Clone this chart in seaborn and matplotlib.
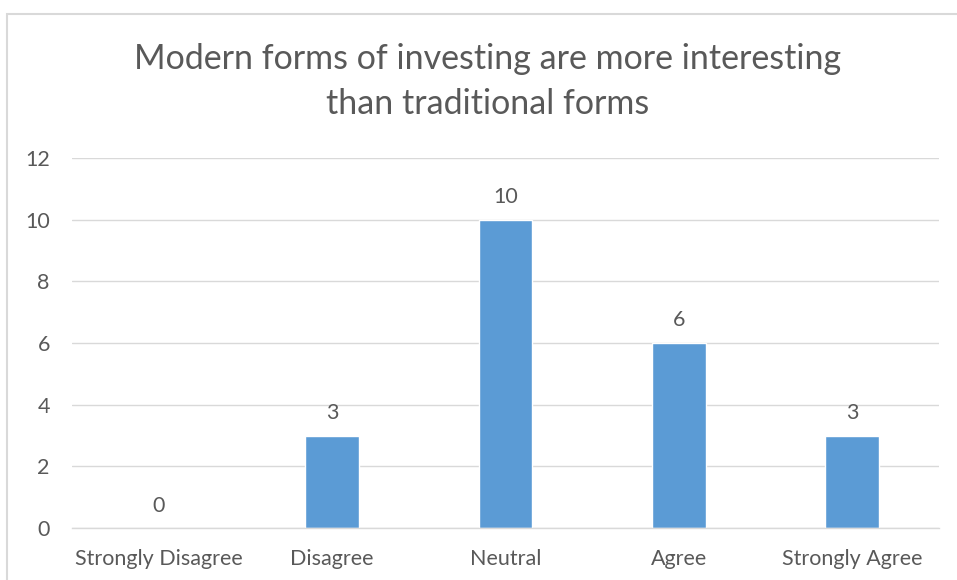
import matplotlib
matplotlib.use("Agg")
import matplotlib.pyplot as plt
import seaborn as sns
import pandas as pd
from matplotlib.patches import Rectangle

categories = ["Strongly Disagree", "Disagree", "Neutral", "Agree", "Strongly Agree"]
counts = [0, 3, 10, 6, 3]
y_ticks = [0, 2, 4, 6, 8, 10, 12]
title = "Modern forms of investing are more interesting\nthan traditional forms"

sns.set_theme(style="white")
plt.rcParams["font.family"] = ["Lato", "DejaVu Sans"]

text_color = "#595959"
grid_color = "#d9d9d9"
bar_color = "#5b9bd5"

df = pd.DataFrame({"category": categories, "count": counts})

fig = plt.figure(figsize=(9.57, 5.80), dpi=100)
fig.patch.set_facecolor("white")

# chart frame
fig.patches.append(Rectangle((7.5 / 957, -0.05), 1.2, 1 - 13.5 / 580 + 0.05,
                             transform=fig.transFigure, fill=False,
                             edgecolor=grid_color, linewidth=1.5))

ax = fig.add_axes([72 / 957, 1 - 528 / 580, (939 - 72) / 957, (528 - 158) / 580])
sns.barplot(data=df, x="category", y="count", color=bar_color, width=0.31,
            saturation=1, ax=ax)

ax.set_ylim(0, 12)
ax.set_yticks(y_ticks)
ax.set_xlim(-0.5, len(categories) - 0.5)
ax.grid(axis="y", color=grid_color, linewidth=1)
ax.set_axisbelow(True)
for side in ["left", "right", "top"]:
    ax.spines[side].set_visible(False)
ax.spines["bottom"].set_color(grid_color)
ax.spines["bottom"].set_linewidth(1)
ax.tick_params(axis="both", length=0, labelsize=15.5, colors=text_color)
ax.tick_params(axis="x", pad=15)
ax.tick_params(axis="y", pad=16)
ax.set_xlabel("")
ax.set_ylabel("")

for container in ax.containers:
    ax.bar_label(container, labels=[str(v) for v in counts], padding=9,
                 fontsize=15.5, color=text_color)

fig.text(488 / 957, 1 - 82 / 580, title, ha="center", va="center",
         fontsize=24.5, color=text_color, linespacing=1.5)

fig.savefig("out.png", dpi=100)
